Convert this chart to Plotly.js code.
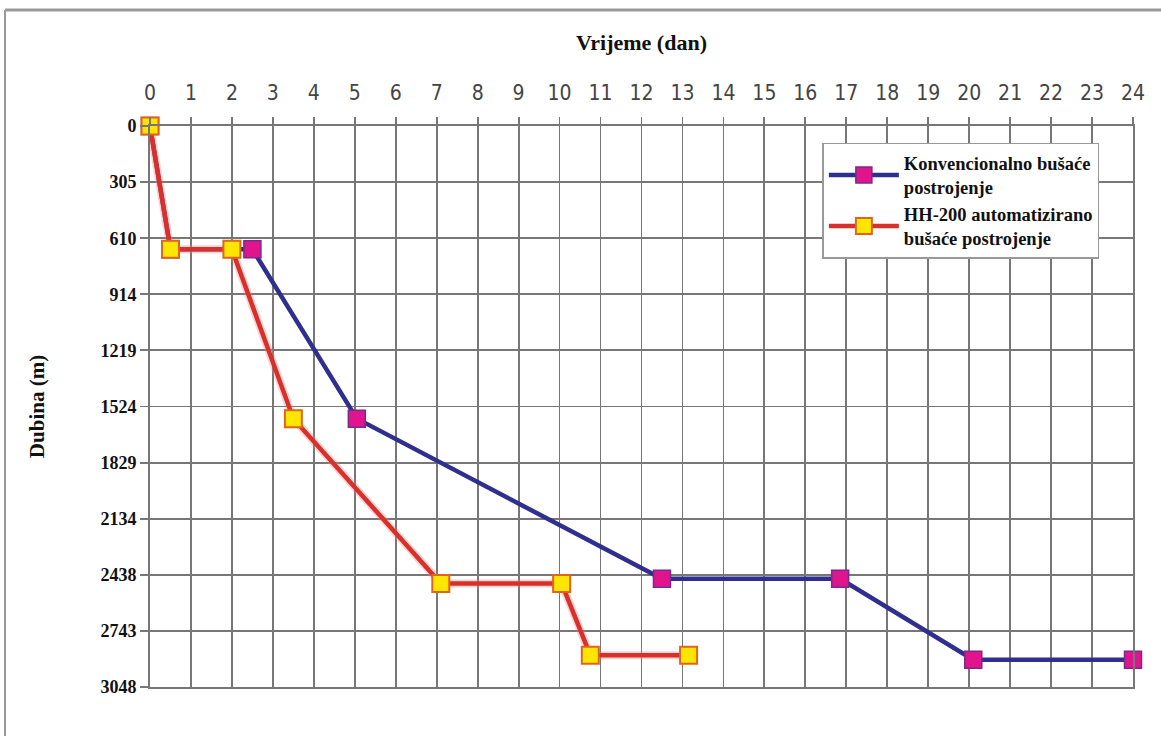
<!DOCTYPE html>
<html>
<head>
<meta charset="utf-8">
<script src="https://cdn.plot.ly/plotly-3.0.1.min.js"></script>
<style>html,body{margin:0;padding:0;background:#fff;}#chart{width:1161px;height:736px;}</style>
</head>
<body>
<div id="chart"></div>
<script>
const convDays = [0, 0.5, 2.5, 5.05, 12.5, 16.85, 20.1, 24];
const convDepth = [0, 670, 670, 1590, 2460, 2460, 2900, 2900];
const hhDays = [0, 0.5, 2.0, 3.5, 7.1, 10.05, 10.75, 13.15];
const hhDepth = [0, 670, 670, 1590, 2485, 2485, 2875, 2875];
const depthTicks = [0, 305, 610, 914, 1219, 1524, 1829, 2134, 2438, 2743, 3048];
const dayTicks = [0,1,2,3,4,5,6,7,8,9,10,11,12,13,14,15,16,17,18,19,20,21,22,23,24];
const convName = 'Konvencionalno bušaće<br>postrojenje';
const hhName = 'HH-200 automatizirano<br>bušaće postrojenje';

const traces = [
  {x: convDays, y: convDepth, mode: 'lines+markers', name: convName, cliponaxis: false,
   line: {color: '#2e2f8f', width: 4.5},
   marker: {symbol: 'square', size: 17, color: '#e0148c', line: {color: '#7a2a8a', width: 1.5}}},
  {x: hhDays, y: hhDepth, mode: 'lines', showlegend: false, hoverinfo: 'skip', cliponaxis: false,
   line: {color: 'rgba(245,130,130,0.35)', width: 8}},
  {x: hhDays, y: hhDepth, mode: 'lines+markers', name: hhName, cliponaxis: false,
   line: {color: '#d8302a', width: 4.5},
   marker: {symbol: 'square', size: 17, color: '#ffe600', line: {color: '#e0641e', width: 2}}}
];

const layout = {
  width: 1161, height: 736,
  margin: {l: 150, r: 28, t: 126, b: 49},
  paper_bgcolor: '#fff', plot_bgcolor: '#fff',
  showlegend: true,
  legend: {x: 0.684, y: 0.97, xanchor: 'left', yanchor: 'top', bgcolor: '#fff',
           bordercolor: '#999', borderwidth: 1.5,
           font: {family: 'Liberation Serif, Times New Roman, serif', size: 18.5, color: '#111', weight: 'bold'},
           itemwidth: 70, tracegroupgap: 0},
  xaxis: {side: 'top', range: [0, 24], tickvals: dayTicks, ticktext: dayTicks.map(String),
          showgrid: true, gridcolor: '#777', gridwidth: 1.8, zeroline: false,
          showline: true, linecolor: '#777', linewidth: 1.8, mirror: true,
          ticks: 'outside', ticklen: 7, tickcolor: '#777', tickwidth: 1.8,
          ticklabelstandoff: 9,
          tickfont: {family: 'DejaVu Sans Condensed, Liberation Sans Narrow, sans-serif', size: 21, color: '#444'},
          title: {text: 'Vrijeme (dan)', standoff: 24,
                  font: {family: 'Liberation Serif, Times New Roman, serif', size: 22, color: '#111', weight: 'bold'}}},
  yaxis: {autorange: false, range: [3048, 0], tickvals: depthTicks, ticktext: depthTicks.map(String),
          showgrid: true, gridcolor: '#777', gridwidth: 1.8, zeroline: false,
          showline: true, linecolor: '#777', linewidth: 1.8, mirror: true,
          ticks: 'outside', ticklen: 8, tickcolor: '#777', tickwidth: 1.8,
          tickfont: {family: 'Liberation Serif, Times New Roman, serif', size: 18, color: '#111', weight: 'bold'},
          title: {text: 'Dubina (m)', standoff: 50,
                  font: {family: 'Liberation Serif, Times New Roman, serif', size: 21, color: '#111', weight: 'bold'}}},
  shapes: [
    {type: 'line', xref: 'paper', yref: 'paper', x0: -0.1475, x1: 1.05, y0: 1.2068, y1: 1.2068,
     line: {color: '#999', width: 3}},
    {type: 'line', xref: 'paper', yref: 'paper', x0: -0.1475, x1: -0.1475, y0: 1.2068, y1: -0.1,
     line: {color: '#999', width: 2}}
  ]
};

Plotly.newPlot('chart', traces, layout, {displayModeBar: false, staticPlot: true});
</script>
</body>
</html>
